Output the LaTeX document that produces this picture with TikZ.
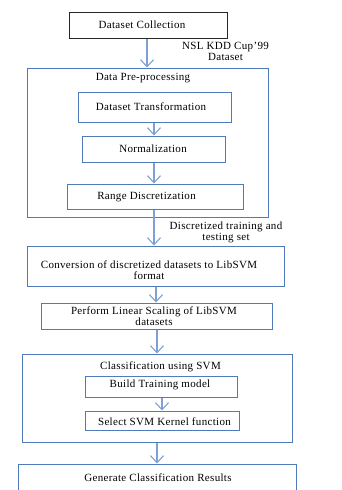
\documentclass[tikz,border=0pt]{standalone}
\usepackage{fontspec}
\setmainfont[LetterSpace=3]{Liberation Serif}
\usetikzlibrary{arrows.meta}
\definecolor{boxblue}{HTML}{4F7BBA}
\definecolor{arrblue}{HTML}{7EA0D4}
\begin{document}
\begin{tikzpicture}[x=1pt,y=-1pt,
  box/.style={draw=boxblue,line width=1pt,minimum width=#1,inner sep=0pt,anchor=center},
  txt/.style={font=\fontsize{11}{11}\selectfont,inner sep=0pt,align=center,anchor=center},
  flow/.style={draw=arrblue,line width=1.1pt,-{Straight Barb[length=7pt,width=13pt,line width=1.1pt]}}]
\useasboundingbox (0,0) rectangle (341,490);
\clip (0,0) rectangle (341,490);
% boxes
\node[box=158pt,draw=black!85,minimum height=26pt] (b1) at (148,25) {};
\node[box=241pt,minimum height=149pt] (pre) at (147.5,142.5) {};
\node[box=153pt,minimum height=30pt] (tr) at (154.5,107) {};
\node[box=143pt,minimum height=26pt] (no) at (153.5,149) {};
\node[box=176pt,minimum height=25pt] (rd) at (155,196.5) {};
\node[box=257pt,minimum height=40pt] (cv) at (155.5,266) {};
\node[box=231pt,minimum height=26pt] (ls) at (156.5,316) {};
\node[box=270pt,minimum height=88pt] (cl) at (157,398) {};
\node[box=152pt,minimum height=21pt] (bt) at (161,386.5) {};
\node[box=154pt,minimum height=19pt] (sk) at (162,420.5) {};
\node[box=278pt,minimum height=40pt] (ge) at (157,484) {};
% texts
\node[txt] (t1) at (142,25) {Dataset Collection};
\node[txt] (t2) at (143,78) {Data Pre-processing};
\node[txt] (t3) at (151,107) {Dataset Transformation};
\node[txt] (t4) at (153,149) {Normalization};
\node[txt] (t5) at (146.5,197) {Range Discretization};
\node[txt] (t6) at (149,270) {Conversion of discretized datasets to LibSVM\\format};
\node[txt] (t7) at (154,316) {Perform Linear Scaling of LibSVM\\datasets};
\node[txt] (t8) at (160.5,367) {Classification using SVM};
\node[txt] (t9) at (160,385) {Build Training model};
\node[txt] (t10) at (164.5,422) {Select SVM Kernel function};
\node[txt] (t11) at (158,478) {Generate Classification Results};
\node[txt] (l1) at (225.5,51) {NSL KDD Cup'99\\Dataset};
\node[txt] (l2) at (226,232) {Discretized training and\\testing set};
% arrows
\draw[flow] ([xshift=-1pt]b1.south) -- ([xshift=-1pt]b1.south |- pre.north);
\draw[flow] (tr.south -| 154,0) -- (no.north -| 154,0);
\draw[flow] (no.south -| 154,0) -- (rd.north -| 154,0);
\draw[flow] (rd.south -| 154,0) -- (cv.north -| 154,0);
\draw[flow] (cv.south -| 156,0) -- (ls.north -| 156,0);
\draw[flow] (ls.south -| 157,0) -- (cl.north -| 157,0);
\draw[flow] (bt.south -| 162,0) -- (sk.north -| 162,0);
\draw[flow] (cl.south -| 157,0) -- (ge.north -| 157,0);
\end{tikzpicture}
\end{document}
